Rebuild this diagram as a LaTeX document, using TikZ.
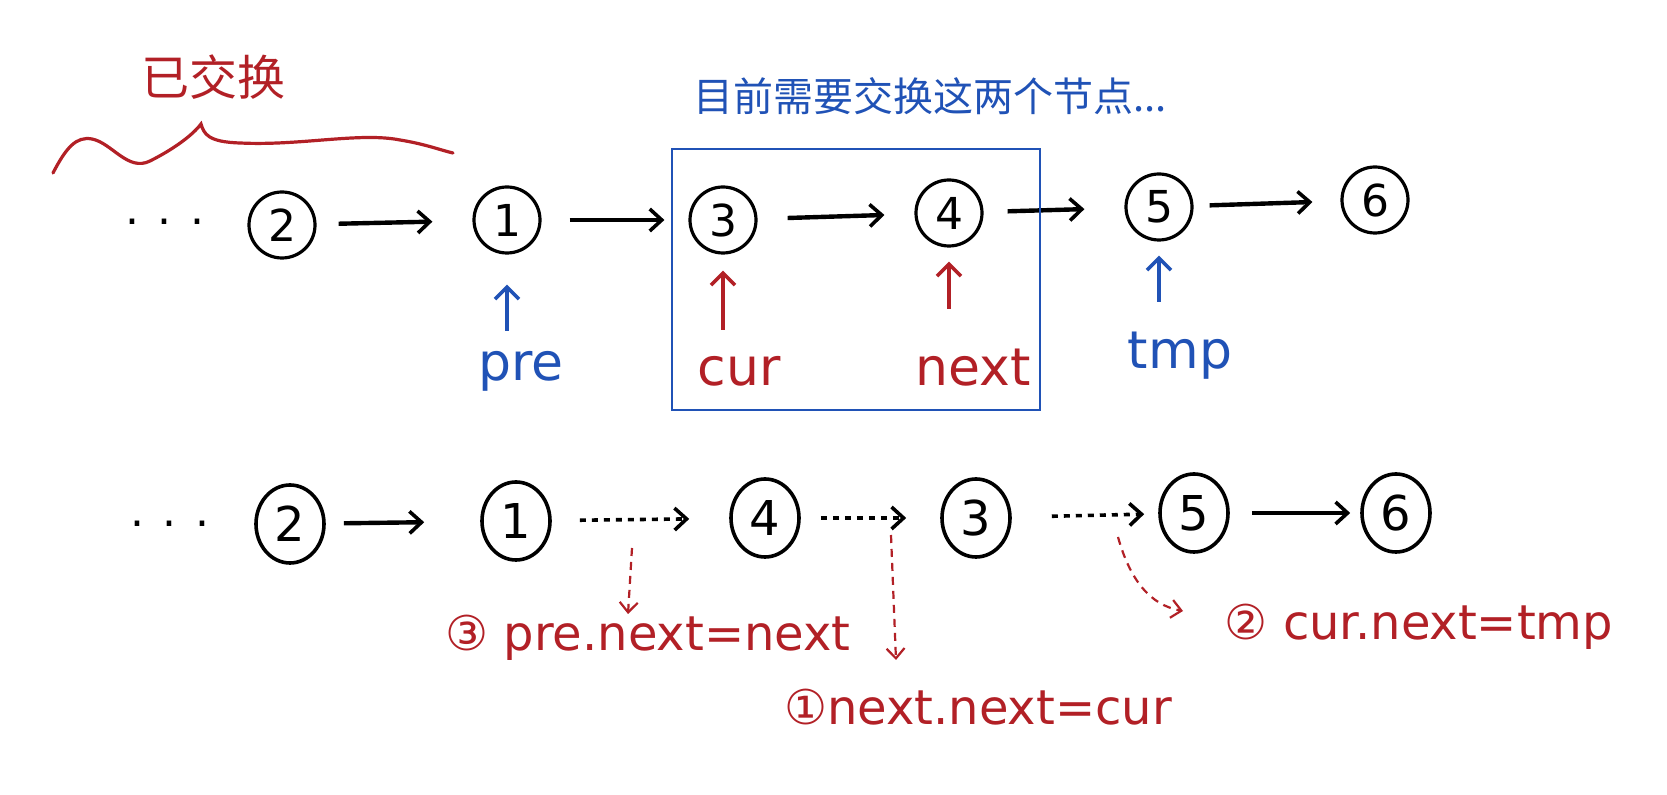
\documentclass[tikz,border=0pt]{standalone}
\usepackage{fontspec}
\setmainfont{DejaVu Sans}
\newfontfamily\cjkfont{Noto Sans CJK SC}
\usetikzlibrary{arrows.meta,shapes.geometric}
\definecolor{hred}{RGB}{178,32,38}
\definecolor{hblue}{RGB}{32,82,182}
\begin{document}
\begin{tikzpicture}[x=0.5pt,y=-0.5pt,
  nd/.style={circle,draw=black,line width=1.6pt,minimum size=33pt,inner sep=0pt,
    font=\fontsize{22}{22}\selectfont},
  ndb/.style={ellipse,draw=black,line width=1.8pt,minimum width=34pt,minimum height=39pt,inner sep=0pt,
    font=\fontsize{24}{24}\selectfont},
  link/.style={-{Straight Barb[length=6pt,width=11pt,line width=1.8pt]},line width=2.2pt,black},
  dlink/.style={-{Straight Barb[length=6pt,width=11pt,line width=1.8pt]},line width=1.8pt,black,
    dash pattern=on 3pt off 3pt},
  ptr/.style={-{Straight Barb[length=6pt,width=12pt,line width=1.8pt]},line width=2pt},
  rptr/.style={-{Straight Barb[length=5pt,width=9pt,line width=1.1pt]},line width=1.1pt,hred,
    dash pattern=on 4pt off 3pt},
  plabel/.style={anchor=north,inner sep=0pt,font=\fontsize{26}{26}\selectfont},
  rlabel/.style={inner sep=0pt,text=hred,font=\fontsize{24}{24}\selectfont},
  dots/.style={inner sep=0pt,font=\fontsize{22}{22}\selectfont}
]
\useasboundingbox (0,0) rectangle (1667,795);
\fill[white] (0,0) rectangle (1667,795);

% ---- top annotations
\node[inner sep=0pt,text=hred,font=\cjkfont\fontsize{24}{24}\selectfont] (done) at (213,77) {已交换};
\draw[hred,line width=1.6pt,line cap=round]
  (53,173) .. controls (66,148) and (76,136) .. (92,139)
  .. controls (112,143) and (128,172) .. (150,161)
  .. controls (172,150) and (192,136) .. (201,124)
  .. controls (204,134) and (208,142) .. (240,143)
  .. controls (300,146) and (360,132) .. (400,140)
  .. controls (425,144) and (440,150) .. (453,153);
\node[inner sep=0pt,text=hblue,font=\cjkfont\fontsize{20}{20}\selectfont] (title) at (930,96) {目前需要交换这两个节点...};

% ---- row 1
\node[dots] (d1) at (165,222) {. . .};
\node[nd] (A2) at (282,225) {2};
\node[nd] (A1) at (507,220) {1};
\node[nd] (A3) at (723,220) {3};
\node[nd] (A4) at (949,213) {4};
\node[nd] (A5) at (1159,207) {5};
\node[nd] (A6) at (1375,200) {6};

\draw[link,shorten <=11pt,shorten >=20pt] (A2) -- (A1);
\draw[link,shorten <=14pt,shorten >=12pt] (A1) -- (A3);
\draw[link,shorten <=15pt,shorten >=15pt] (A3) -- (A4);
\draw[link,shorten <=12pt,shorten >=20pt] (A4) -- (A5);
\draw[link,shorten <=8pt,shorten >=14pt] (A5) -- (A6);

\draw[hblue,line width=1.1pt] (672,149) rectangle (1040,410);

\node[plabel,text=hblue] (pre) at (521,351) {pre};
\node[plabel,text=hred] (cur) at (739,356) {cur};
\node[plabel,text=hred] (nxt) at (973,349) {next};
\node[plabel,text=hblue] (tmp) at (1180,332) {tmp};

\draw[ptr,hblue,shorten <=10pt,shorten >=15pt] (pre.north -| A1.south) -- (A1.south);
\draw[ptr,hred,shorten <=13pt,shorten >=8pt] (cur.north -| A3.south) -- (A3.south);
\draw[ptr,hred,shorten <=20pt,shorten >=7pt] (nxt.north -| A4.south) -- (A4.south);
\draw[ptr,hblue,shorten <=15pt,shorten >=7pt] (tmp.north -| A5.south) -- (A5.south);

% ---- row 2
\node[dots] (d2) at (170,524) {. . .};
\node[ndb] (B2) at (290,524) {2};
\node[ndb] (B1) at (516,521) {1};
\node[ndb] (B4) at (765,518) {4};
\node[ndb] (B3) at (976,518) {3};
\node[ndb] (B5) at (1194,513) {5};
\node[ndb] (B6) at (1396,513) {6};

\draw[link,shorten <=9pt,shorten >=28pt] (B2) -- (B1);
\draw[dlink,shorten <=14pt,shorten >=20pt] (B1) -- (B4);
\draw[dlink,shorten <=10pt,shorten >=17pt] (B4) -- (B3);
\draw[dlink,shorten <=20pt,shorten >=7pt] (B3) -- (B5);
\draw[link,shorten <=11pt,shorten >=5pt] (B5) -- (B6);

% ---- red explanations
\coordinate (m1) at (632,548);
\coordinate (e1) at (628,614);
\coordinate (m2) at (891,535);
\coordinate (e2) at (896,660);
\coordinate (m3) at (1118,537);
\coordinate (e3) at (1183,611);
\draw[rptr] (m1) -- (e1);
\draw[rptr] (m2) -- (e2);
\draw[rptr] (m3) .. controls (1130,580) and (1150,605) .. (e3);

\node[rlabel] (l3) at (648,638) {③ pre.next=next};
\node[rlabel] (l1) at (978,707) {①next.next=cur};
\node[rlabel] (l2) at (1419,627) {② cur.next=tmp};
\end{tikzpicture}
\end{document}
